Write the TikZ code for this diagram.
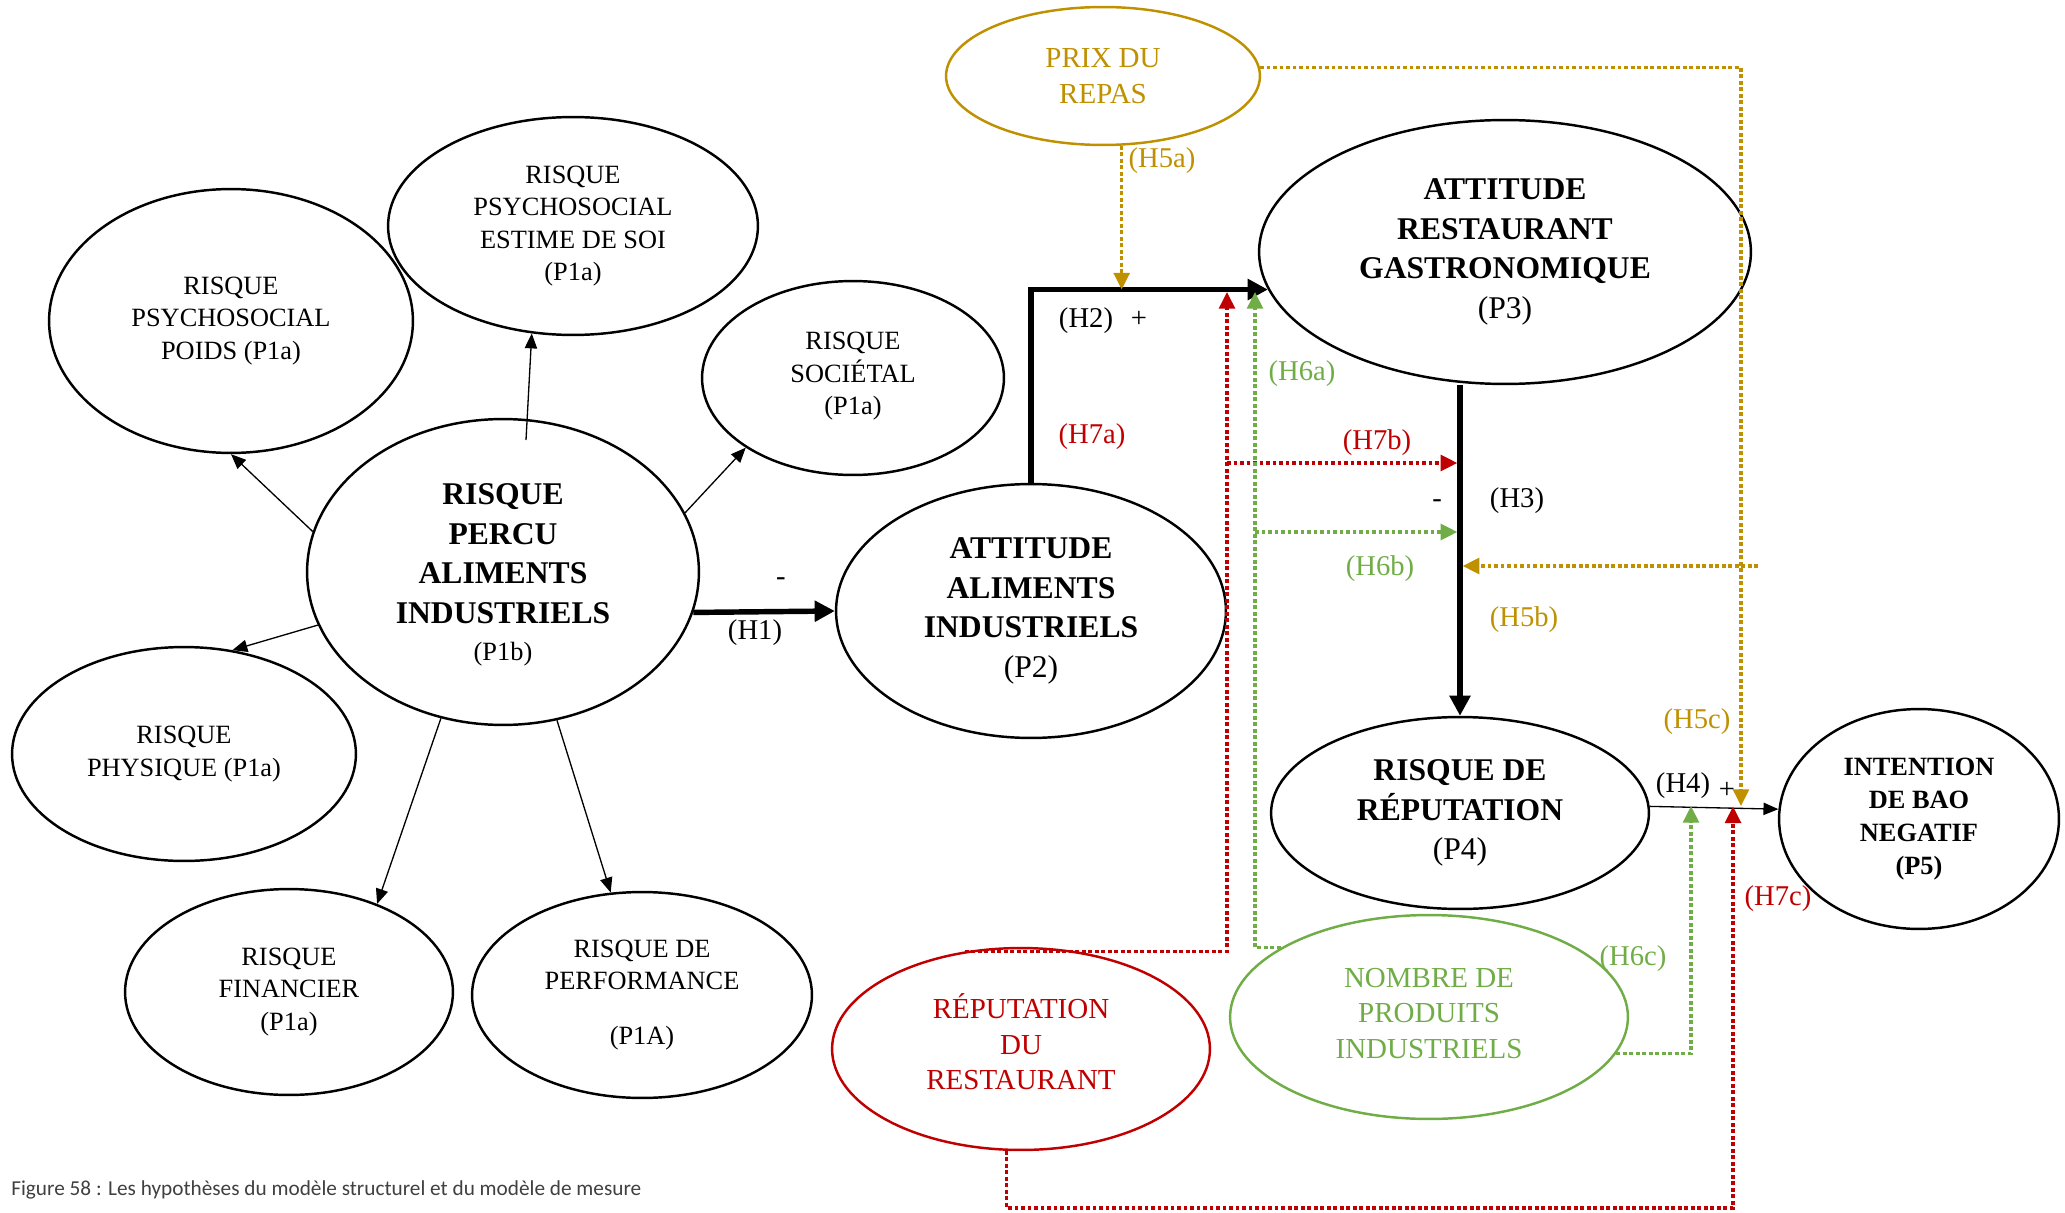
\documentclass[tikz,border=0pt]{standalone}
\usepackage{fontspec}
\setmainfont{Liberation Serif}
\newfontfamily\capfont{Carlito}
\usetikzlibrary{shapes.geometric,arrows.meta}
\definecolor{goldc}{RGB}{191,144,0}
\definecolor{redc}{RGB}{192,0,0}
\definecolor{greenc}{RGB}{112,173,71}
\definecolor{capgray}{RGB}{64,64,64}
\tikzset{
  oval/.style 2 args={ellipse, draw, line width=1.4pt, inner sep=0pt, align=center,
    minimum width=#1*0.04cm, minimum height=#2*0.04cm},
  risk/.style={font=\fontsize{15}{18.5}\selectfont},
  construct/.style={font=\fontsize{18}{22.5}\selectfont\bfseries},
  moderator/.style={font=\fontsize{16.5}{20.2}\selectfont},
  hyp/.style={font=\fontsize{16.3}{19}\selectfont, inner sep=0pt},
  thinarr/.style={line width=0.75pt, -{Triangle[length=8.5pt,width=7pt]}},
  thickarr/.style={line width=3.1pt, -{Triangle[length=11.5pt,width=11.5pt]}},
  dotarr/.style={line width=1.9pt, dash pattern=on 2.2pt off 1.5pt, -{Triangle[length=9.5pt,width=9pt]}}
}

\begin{document}
\begin{tikzpicture}[x=0.02cm, y=-0.02cm]
    \useasboundingbox (0,0) rectangle (2065,1213);

    \node[oval={182}{132}, risk] (poids) at (231,321) {RISQUE\\PSYCHOSOCIAL\\POIDS (P1a)};
    \node[oval={185}{109}, risk] (estime) at (573,226) {RISQUE\\PSYCHOSOCIAL\\ESTIME DE SOI\\(P1a)};
    \node[oval={151}{97}, risk, text depth=5pt] (societal) at (853,378) {RISQUE\\SOCIÉTAL\\(P1a)};
    \node[oval={196}{153}, construct, text depth=0pt] (percu) at (503,572) {RISQUE\\PERCU\\ALIMENTS\\INDUSTRIELS\\[-1.5pt]{\mdseries\fontsize{15}{18}\selectfont (P1b)}};
    \node[oval={172}{107}, risk] (physique) at (184,754) {RISQUE\\PHYSIQUE (P1a)};
    \node[oval={164}{103}, risk] (financier) at (289,992) {RISQUE\\FINANCIER\\(P1a)};
    \node[oval={170}{103}, risk] (performance) at (642,995) {RISQUE DE\\PERFORMANCE\\[12.5pt](P1A)};

    \node[oval={195}{127}, construct] (p2) at (1031,611) {ATTITUDE\\ALIMENTS\\INDUSTRIELS\\{\mdseries (P2)}};
    \node[oval={246}{132}, construct] (p3) at (1505,252) {ATTITUDE\\RESTAURANT\\GASTRONOMIQUE\\{\mdseries (P3)}};
    \node[oval={189}{96}, construct] (p4) at (1460,813) {RISQUE DE\\RÉPUTATION\\{\mdseries (P4)}};
    \node[oval={140}{110}, construct, font=\fontsize{15}{18.8}\selectfont\bfseries] (p5) at (1919,819) {INTENTION\\DE BAO\\NEGATIF\\(P5)};

    \node[oval={157}{69}, moderator, draw=goldc, text=goldc] (prix) at (1103,76) {PRIX DU\\REPAS};
    \node[oval={189}{101}, moderator, draw=redc, text=redc, text depth=8pt] (rep) at (1021,1049) {RÉPUTATION\\DU\\RESTAURANT};
    \node[oval={199}{102}, moderator, draw=greenc, text=greenc, text depth=4.5pt] (nombre) at (1429,1017) {NOMBRE DE\\PRODUITS\\INDUSTRIELS};

    \coordinate (estimefoot) at (526,440);
    \draw[thinarr] (percu.168) -- (poids.south);
    \draw[thinarr] (estimefoot) -- (estime.249);
    \draw[thinarr] (percu.18) -- (societal.213);
    \draw[thinarr] (percu.196) -- (physique.65);
    \draw[thinarr] (percu.247) -- (financier.45);
    \draw[thinarr] (percu.290) -- (performance.107);

    \draw[thickarr] (percu.-12) -- (p2.west);
    \draw[thickarr] (p2.north) |- (p3.189);
    \draw[thickarr] (p3.south -| p4.north) -- (p4.north);
    \draw[thinarr] (p4.2) -- (p5.176);

    \coordinate (goldend) at (1741,806);
    \coordinate (goldtap) at (1758,566);
    \draw[dotarr, goldc] (prix.-75) -- (prix.-75 |- p3.189);
    \draw[dotarr, goldc] (prix.3) -| (goldend);
    \draw[dotarr, goldc, shorten >=1.5pt] (goldtap) -- (goldtap -| p4.north);

    \coordinate (redup) at (1227,292);
    \coordinate (redtap) at (1227,463);
    \coordinate (redfoot) at (1733,1208);
    \draw[dotarr, redc] (rep.120) -| (redup);
    \draw[dotarr, redc, shorten >=1.5pt] (redtap) -- (redtap -| p4.north);
    \draw[dotarr, redc] (rep.262) |- (redfoot) -- (redfoot |- p4.2);

    \coordinate (greenup) at (1255,292);
    \coordinate (greentap) at (1255,532);
    \coordinate (greenend) at (1691,806);
    \draw[dotarr, greenc] (nombre.155) -| (greenup);
    \draw[dotarr, greenc, shorten >=1.5pt] (greentap) -- (greentap -| p4.north);
    \draw[dotarr, greenc] (nombre.-11) -| (greenend);

    \node[hyp] (minus1) at (781,582) {-};
    \node[hyp] (h1) at (755,633) {(H1)};
    \node[hyp] (h2) at (1086,321) {(H2)};
    \node[hyp] (plus2) at (1139,319) {+};
    \node[hyp, text=redc] (h7a) at (1092,437) {(H7a)};
    \node[hyp, text=goldc] (h5a) at (1162,161) {(H5a)};
    \node[hyp, text=greenc] (h6a) at (1302,374) {(H6a)};
    \node[hyp, text=redc] (h7b) at (1377,443) {(H7b)};
    \node[hyp] (minus3) at (1437,504) {-};
    \node[hyp] (h3) at (1517,501) {(H3)};
    \node[hyp, text=greenc] (h6b) at (1380,569) {(H6b)};
    \node[hyp, text=goldc] (h5b) at (1524,620) {(H5b)};
    \node[hyp, text=goldc] (h5c) at (1697,722) {(H5c)};
    \node[hyp] (h4) at (1683,786) {(H4)};
    \node[hyp] (plus4) at (1727,790) {+};
    \node[hyp, text=redc] (h7c) at (1778,899) {(H7c)};
    \node[hyp, text=greenc] (h6c) at (1633,959) {(H6c)};

    \node[anchor=base west, inner sep=0pt, text=capgray, font=\capfont\fontsize{12.1}{14}\selectfont] (caption) at (11,1195) {Figure 58 : Les hypothèses du modèle structurel et du modèle de mesure};
\end{tikzpicture}
\end{document}
